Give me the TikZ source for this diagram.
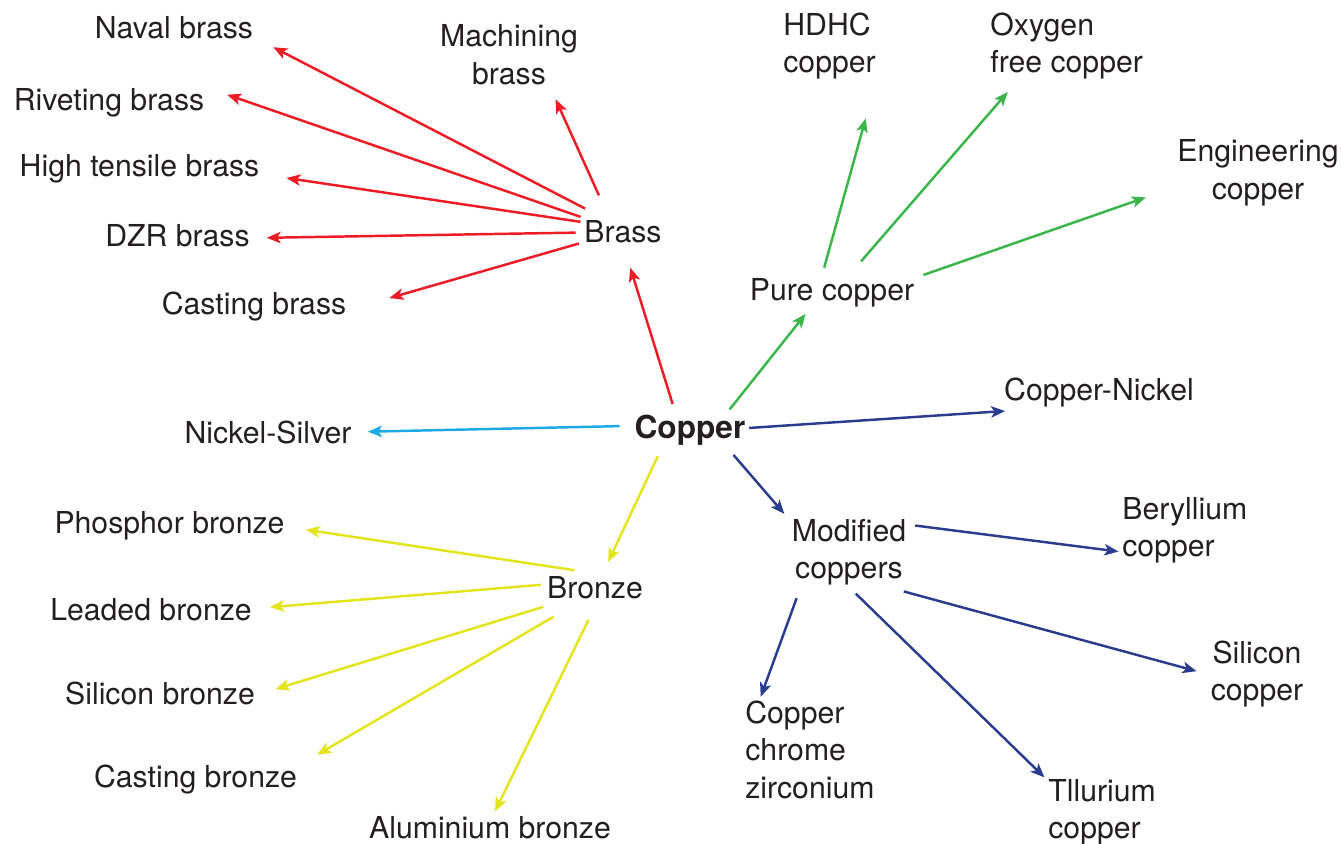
\documentclass[tikz,border=0pt]{standalone}
\usepackage{fontspec}
\setmainfont{TeX Gyre Heros}
\usepackage{tikz}
\usetikzlibrary{arrows.meta}

\definecolor{txt}{HTML}{231F20}
\definecolor{arrred}{HTML}{ED1C24}
\definecolor{arrgreen}{HTML}{39B54A}
\definecolor{arryellow}{HTML}{E4E41C}
\definecolor{arrcyan}{HTML}{1CA9E6}
\definecolor{arrnavy}{HTML}{2B3C8F}

\tikzset{
  lbl/.style={text=txt, inner sep=2pt, font=\fontsize{17.2}{21.3}\selectfont},
  leaf/.style={lbl, anchor=base, text height=12.9pt, text depth=3.8pt},
  hub/.style={leaf, font=\fontsize{18}{21.3}\selectfont\bfseries},
  multi/.style={lbl, align=left},
  conn/.style={line width=1.4pt, -{Stealth[length=8pt,width=6.5pt,inset=2pt]}},
  redarr/.style={conn, draw=arrred},
  greenarr/.style={conn, draw=arrgreen},
  yellowarr/.style={conn, draw=arryellow},
  cyanarr/.style={conn, draw=arrcyan},
  navyarr/.style={conn, draw=arrnavy}
}

\begin{document}
\begin{tikzpicture}[x=0.02cm, y=-0.02cm]
    \useasboundingbox (0,0) rectangle (1341,843);

    \node[hub] (copper) at (690,438) {Copper};
    \node[leaf] (brass) at (623,242) {Brass};
    \node[leaf] (purecu) at (832,300) {Pure copper};
    \node[leaf] (nisilver) at (268,443) {Nickel-Silver};
    \node[leaf] (cuni) at (1099,400) {Copper-Nickel};
    \node[leaf] (bronze) at (595,598) {Bronze};
    \node[multi, align=center] (modified) at (849,552) {Modified\\coppers};

    \node[leaf] (naval) at (174,38) {Naval brass};
    \node[multi, align=center] (machining) at (509,54.75) {Machining\\brass};
    \node[leaf] (riveting) at (109,110) {Riveting brass};
    \node[leaf] (hightensile) at (139.5,176) {High tensile brass};
    \node[leaf] (dzr) at (177.5,246) {DZR brass};
    \node[leaf] (castbrass) at (254,314) {Casting brass};

    \node[multi, anchor=west] (hdhc) at (779.5,46.2) {HDHC\\copper};
    \node[multi, anchor=west] (oxygen) at (986.5,45.9) {Oxygen\\free copper};
    \node[multi, align=center] (engineering) at (1258,172.8) {Engineering\\copper};

    \node[multi, anchor=west] (beryllium) at (1118.5,530) {Beryllium\\copper};
    \node[multi, align=center] (silicu) at (1257,674) {Silicon\\copper};
    \node[multi, anchor=west] (ccz) at (741.5,749.6) {Copper\\chrome\\zirconium};
    \node[multi, anchor=west] (tllurium) at (1044.5,812) {Tllurium\\copper};

    \node[leaf] (phosphor) at (169.5,533) {Phosphor bronze};
    \node[leaf] (leaded) at (151,620) {Leaded bronze};
    \node[leaf] (silibronze) at (160,704) {Silicon bronze};
    \node[leaf] (castbronze) at (195.5,787) {Casting bronze};
    \node[leaf] (alubronze) at (490,838) {Aluminium bronze};

    \draw[redarr, shorten <=4.5pt, shorten >=9pt] (copper.129) -- (brass.-82);
    \draw[redarr, shorten <=8.5pt, shorten >=10.5pt] (brass.143) -- (naval.-6);
    \draw[redarr, shorten <=12.6pt, shorten >=6.7pt] (brass.129) -- (machining.-39);
    \draw[redarr, shorten >=11.5pt] (brass.158) -- (riveting.8);
    \draw[redarr, shorten >=13.4pt] (brass.164) -- (hightensile.-3);
    \draw[redarr, shorten <=2.8pt, shorten >=7.5pt] (brass.178) -- (dzr.east);
    \draw[redarr, shorten <=1pt, shorten >=23.3pt] (brass.192) -- (castbrass.-2);

    \draw[greenarr, shorten <=1.5pt, shorten >=2.4pt] (copper.26) -- (purecu.218);
    \draw[greenarr, shorten <=3.4pt, shorten >=20.7pt] (purecu.117) -- (hdhc.-39);
    \draw[greenarr, shorten <=9.1pt, shorten >=6.7pt] (purecu.45) -- (oxygen.216);
    \draw[greenarr, shorten <=3.2pt, shorten >=16.7pt] (purecu.10) -- (engineering.190);

    \draw[cyanarr, shorten <=6.3pt, shorten >=7.2pt] (copper.176) -- (nisilver.2);

    \draw[navyarr, shorten >=3.8pt] (copper.2) -- (cuni.192);
    \draw[navyarr, shorten <=4.8pt, shorten >=3.2pt] (copper.-26) -- (modified.151);
    \draw[navyarr, shorten <=3pt] (modified.24) -- (beryllium.198);
    \draw[navyarr, shorten <=5.4pt, shorten >=6.1pt] (modified.-39) -- (silicu.west);
    \draw[navyarr, shorten <=5.6pt] (modified.217) -- (ccz.133);
    \draw[navyarr, shorten <=3.8pt] (modified.-87) -- (tllurium.149);

    \draw[yellowarr, shorten <=4.8pt, shorten >=6pt] (copper.213) -- (bronze.65);
    \draw[yellowarr, shorten <=4.9pt, shorten >=10pt] (bronze.123) -- (phosphor.-1);
    \draw[yellowarr, shorten <=1.5pt, shorten >=8.3pt] (bronze.174) -- (leaded.2);
    \draw[yellowarr, shorten >=10pt] (bronze.198) -- (silibronze.1);
    \draw[yellowarr, shorten <=9pt, shorten >=10.7pt] (bronze.214) -- (castbronze.8);
    \draw[yellowarr, shorten <=7pt] (bronze.267) -- (alubronze.75);
\end{tikzpicture}
\end{document}
